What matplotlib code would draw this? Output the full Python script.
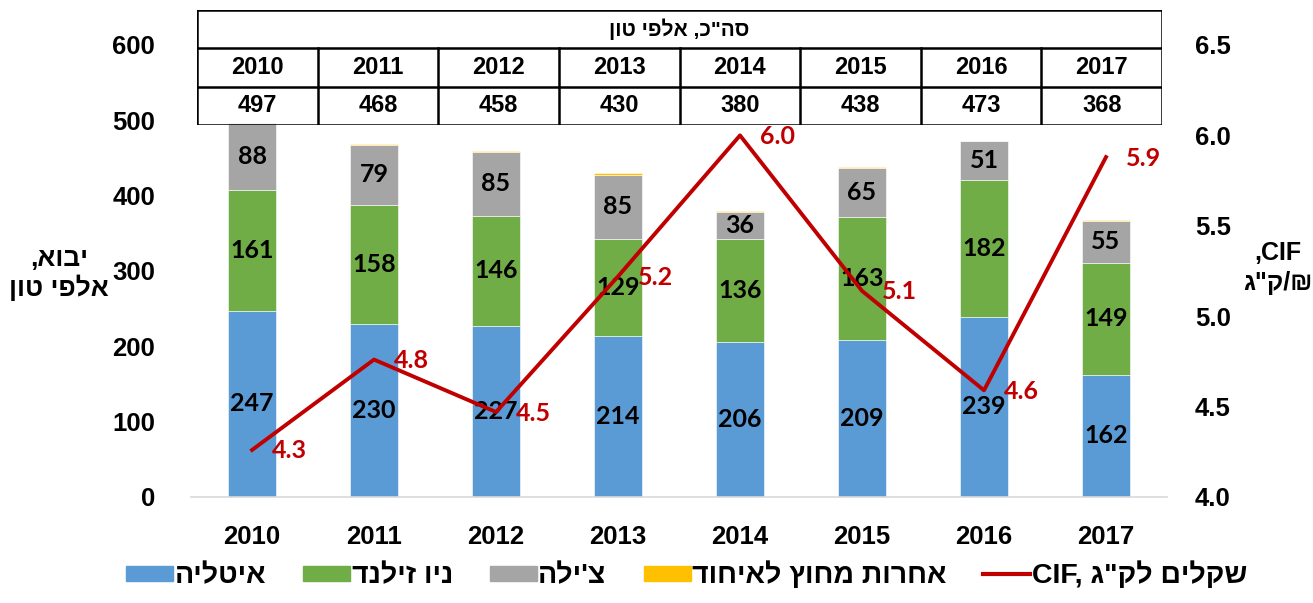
import matplotlib.pyplot as plt
from matplotlib.patches import Patch
from matplotlib.lines import Line2D
import numpy as np

years = ["2010", "2011", "2012", "2013", "2014", "2015", "2016", "2017"]
italy = [247, 230, 227, 214, 206, 209, 239, 162]
new_zealand = [161, 158, 146, 129, 136, 163, 182, 149]
chile = [88, 79, 85, 85, 36, 65, 51, 55]
others = [1, 1, 1, 2, 2, 1, 1, 2]
totals = [497, 468, 458, 430, 380, 438, 473, 368]
cif = [4.26, 4.76, 4.47, 5.22, 6.0, 5.14, 4.59, 5.88]


def heb(s):
    # matplotlib has no bidi, so Hebrew is written in visual order
    return s[::-1]


names = [heb("איטליה"), heb("ניו זילנד"), heb("צ'ילה"), heb("אחרות מחוץ לאיחוד")]
line_name = "CIF, " + heb('שקלים לק"ג')
colors = ["#5B9BD5", "#70AD47", "#A5A5A5", "#FFC000"]
red = "#C00000"

plt.rcParams['font.family'] = ['Liberation Sans', 'DejaVu Sans']
plt.rcParams['font.weight'] = 'bold'
num_font = ['Lato', 'DejaVu Sans']

fig = plt.figure(figsize=(13.13, 6.03), dpi=100)
ax = fig.add_axes([0.1455, 0.1758, 0.7433, 0.7496])

x = np.arange(len(years))
bottom = np.zeros(len(years))
for i, (vals, col) in enumerate(zip([italy, new_zealand, chile, others], colors)):
    ax.bar(x, vals, 0.39, bottom=bottom, color=col, edgecolor='white', linewidth=0.4)
    if i < 3:
        for xi, b, v in zip(x, bottom, vals):
            ax.text(xi, b + v / 2, str(v), ha='center', va='center',
                    fontsize=18, fontweight='bold', family=num_font, color='black')
    bottom += np.array(vals)

ax.set_xlim(-0.5, len(years) - 0.5)
ax.set_ylim(0, 600)
ax.set_yticks(range(0, 601, 100))
ax.set_xticks(x)
ax.set_xticklabels(years)
ax.tick_params(length=0, labelsize=18.5)
ax.tick_params(axis='x', pad=20)
ax.tick_params(axis='y', pad=26)
for s in ['top', 'left', 'right']:
    ax.spines[s].set_visible(False)
ax.spines['bottom'].set_color('#D9D9D9')
ax.spines['bottom'].set_linewidth(1.2)

ax2 = ax.twinx()
ax2.plot(x, cif, color=red, linewidth=2.8)
for xi, v in zip(x, cif):
    ax2.annotate(f"{v:.1f}", (xi, v), xytext=(20, -1), textcoords='offset pixels',
                 ha='left', va='center', color=red, fontsize=18,
                 fontweight='bold', family=num_font)
ax2.set_ylim(4.0, 6.5)
ax2.set_yticks(np.arange(4.0, 6.51, 0.5))
ax2.set_yticklabels([f"{t:.1f}" for t in np.arange(4.0, 6.51, 0.5)])
ax2.tick_params(length=0, labelsize=18.5, pad=20)
for s in ax2.spines.values():
    s.set_visible(False)

fig.text(0.045, 0.546, heb("יבוא,") + "\n" + heb("אלפי טון"), ha='center', va='center',
         fontsize=19, fontweight='bold', linespacing=1.15)
fig.text(0.973, 0.555, ",CIF\n" + heb('₪/ק"ג'), ha='center', va='center',
         fontsize=18, fontweight='bold', linespacing=1.3)

# totals table above the plot
tab = fig.add_axes([197 / 1313, 1 - 125 / 603, 965 / 1313, 115 / 603])
tab.set_xlim(0, len(years))
tab.set_ylim(0, 3)
tab.axis('off')
lw = 1.8
for yy in [0, 1, 2, 3]:
    tab.plot([0, len(years)], [yy, yy], color='black', lw=lw, solid_capstyle='projecting')
for xx in range(len(years) + 1):
    top = 3 if xx in (0, len(years)) else 2
    tab.plot([xx, xx], [0, top], color='black', lw=lw, solid_capstyle='projecting')
tab.text(len(years) / 2, 2.5, heb('סה"כ, אלפי טון'), ha='center', va='center',
         fontsize=15, fontweight='bold')
for i, (yr, t) in enumerate(zip(years, totals)):
    tab.text(i + 0.5, 1.5, yr, ha='center', va='center', fontsize=17, fontweight='bold')
    tab.text(i + 0.5, 0.5, str(t), ha='center', va='center', fontsize=17, fontweight='bold')

handles = [Patch(color=c) for c in colors] + [Line2D([], [], color=red, lw=3)]
fig.legend(handles, names + [line_name], loc='lower center', bbox_to_anchor=(0.523, -0.02),
           ncol=5, frameon=False, prop={'size': 20.5, 'weight': 'bold'},
           handlelength=1.65, handleheight=0.46, handletextpad=0.05, columnspacing=1.3)

fig.savefig("out.png", dpi=100)
